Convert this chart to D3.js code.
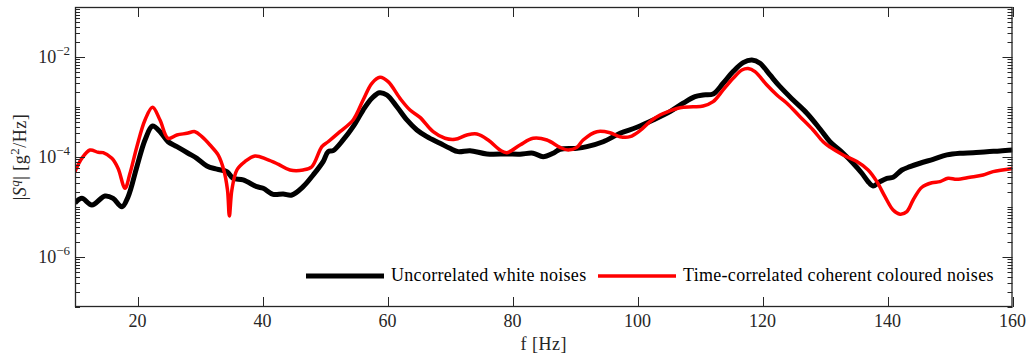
<!DOCTYPE html>
<html>
<head>
<meta charset="utf-8">
<script src="https://cdn.jsdelivr.net/npm/d3@7"></script>
<style>
  body { margin: 0; background: #fff; }
  svg { display: block; font-family: "Liberation Serif", "DejaVu Serif", serif; }
</style>
</head>
<body>
<svg id="chart" width="1028" height="361"></svg>
<script>
// frequency [Hz] and |S^q| [g^2/Hz]
const freqWhite = [10, 11.1, 12.7, 14.8, 16.1, 17.5, 18.5, 19.9, 21.2, 22.4, 23.6, 24.9, 26.3, 28.1, 29.5, 31.1, 32.7, 34.3, 35.3, 36.9,
  39.1, 40.1, 41.7, 43.3, 44.7, 46.5, 48.1, 49.7, 50.5, 51.3, 52.9, 54.5, 56.1, 57.5, 58.7, 59.9, 61.5, 63.1, 64.7, 66.3,
  68.4, 70, 71.3, 73.2, 75.9, 79.1, 81.2, 83.3, 84.9, 86.5, 87.6, 90.3, 91.9, 94.5, 97.2, 99.9, 102.5, 105.2, 107.3, 109.2,
  110.5, 112.1, 113.7, 115.3, 116.9, 118.3, 119.6, 121.2, 122.8, 124.9, 127.1, 129.2, 130.8, 132.9, 134.5, 135.9, 136.9, 137.7, 138.8, 139.9,
  140.9, 142.3, 143.6, 145.2, 147.3, 149.5, 151.6, 153.7, 155.9, 158, 160];
const psdWhite = [1.2e-5, 1.49e-5, 1.1e-5, 1.66e-5, 1.49e-5, 1.01e-5, 1.61e-5, 6.4e-5, 2.19e-4, 4.17e-4, 3.21e-4, 2.02e-4, 1.61e-4, 1.19e-4, 9.4e-5, 6.6e-5, 5.7e-5, 5.1e-5, 3.75e-5, 3.47e-5,
  2.55e-5, 2.37e-5, 1.79e-5, 1.82e-5, 1.74e-5, 2.55e-5, 4.37e-5, 8.1e-5, 1.28e-4, 1.34e-4, 2.19e-4, 4.04e-4, 8.7e-4, 1.49e-3, 1.93e-3, 1.74e-3, 1.01e-3, 5.5e-4, 3.47e-4, 2.55e-4,
  1.88e-4, 1.49e-4, 1.28e-4, 1.34e-4, 1.15e-4, 1.15e-4, 1.14e-4, 1.19e-4, 1.01e-4, 1.19e-4, 1.43e-4, 1.49e-4, 1.61e-4, 2.02e-4, 2.98e-4, 3.93e-4, 5.5e-4, 8.1e-4, 1.19e-3, 1.61e-3,
  1.74e-3, 1.82e-3, 2.98e-3, 5.1e-3, 7.7e-3, 8.7e-3, 7.5e-3, 4.37e-3, 2.55e-3, 1.38e-3, 7.5e-4, 3.63e-4, 2.02e-4, 1.19e-4, 7.5e-5, 4.72e-5, 3.21e-5, 2.63e-5, 3.21e-5, 3.75e-5,
  3.93e-5, 5.5e-5, 6.4e-5, 7.5e-5, 9.0e-5, 1.1e-4, 1.19e-4, 1.22e-4, 1.28e-4, 1.32e-4, 1.38e-4];

const freqColoured = [10, 11.1, 12.4, 13.7, 14.5, 15.9, 16.9, 18, 18.8, 19.9, 21.2, 22.4, 23.6, 24.9, 26.3, 27.9, 29.2, 30.3, 31.6, 32.9,
  33.8, 34.4, 34.7, 35.1, 35.9, 37.2, 38.8, 40.7, 42.5, 44.4, 46.5, 47.9, 49.5, 50.5, 52.4, 54.5, 56.1, 57.5, 58.8, 60.1,
  62, 63.6, 65.2, 67.3, 69.2, 70.8, 72.7, 74.3, 76.1, 78, 79.1, 81.2, 83.3, 85.5, 87.6, 88.9, 90.3, 91.3, 93.5, 95.6,
  97.2, 98.8, 100.4, 102, 103.6, 105.2, 106.8, 108.9, 110.5, 112.1, 113.7, 115.3, 116.7, 117.7, 118.8, 120.7, 122.3, 123.9, 126, 128.1,
  129.7, 130.8, 132.9, 135.1, 136.9, 138.3, 139.6, 140.9, 142, 143.1, 144.1, 145.5, 147.1, 148.4, 149.7, 151.1, 153.2, 155.3, 156.9, 160];
const psdColoured = [5.1e-5, 9.4e-5, 1.38e-4, 1.24e-4, 1.22e-4, 9.4e-5, 5.9e-5, 2.37e-5, 4.72e-5, 1.61e-4, 5.5e-4, 9.9e-4, 5.5e-4, 2.37e-4, 2.75e-4, 2.98e-4, 3.21e-4, 2.55e-4, 1.74e-4, 1.1e-4,
  5.5e-5, 2.19e-5, 6.6e-6, 2.19e-5, 5.5e-5, 8.1e-5, 1.05e-4, 9.0e-5, 7.2e-5, 5.5e-5, 5.5e-5, 6.4e-5, 1.61e-4, 2.02e-4, 3.21e-4, 5.5e-4, 1.38e-3, 2.98e-3, 3.93e-3, 3.21e-3,
  1.49e-3, 8.7e-4, 6.2e-4, 3.21e-4, 2.37e-4, 2.26e-4, 2.75e-4, 2.88e-4, 2.19e-4, 1.38e-4, 1.22e-4, 1.74e-4, 2.37e-4, 2.19e-4, 1.56e-4, 1.38e-4, 1.56e-4, 2.19e-4, 3.21e-4, 3.06e-4,
  2.55e-4, 2.55e-4, 3.36e-4, 5.1e-4, 6.9e-4, 8.4e-4, 9.7e-4, 1.01e-3, 1.05e-3, 1.28e-3, 2.19e-3, 3.75e-3, 5.5e-3, 5.9e-3, 5.1e-3, 2.75e-3, 1.74e-3, 1.19e-3, 6.4e-4, 3.47e-4,
  2.02e-4, 1.58e-4, 1.1e-4, 8.1e-5, 5.5e-5, 3.21e-5, 1.61e-5, 8.7e-6, 7.2e-6, 8.1e-6, 1.38e-5, 2.48e-5, 3.06e-5, 3.21e-5, 3.75e-5, 3.58e-5, 3.93e-5, 4.37e-5, 5.1e-5, 5.9e-5];

const xTicks = [20, 40, 60, 80, 100, 120, 140, 160];
const yLabelExps = [-2, -4, -6];
const seriesNames = ["Uncorrelated white noises", "Time-correlated coherent coloured noises"];

const svg = d3.select("#chart");
const margin = { left: 75, right: 15.5, top: 7, bottom: 54 };
const width = +svg.attr("width"), height = +svg.attr("height");
const x0 = margin.left, x1 = width - margin.right, y0 = margin.top, y1 = height - margin.bottom;

const x = d3.scaleLinear().domain([10, 160]).range([x0, x1]);
const y = d3.scaleLog().domain([1e-7, 1e-1]).range([y1, y0]);

svg.append("clipPath").attr("id", "plot")
  .append("rect").attr("x", x0).attr("y", y0).attr("width", x1 - x0).attr("height", y1 - y0);

const line = d3.line()
  .x(d => x(d[0]))
  .y(d => y(d[1]))
  .curve(d3.curveCatmullRom.alpha(0.5));

const g = svg.append("g").attr("clip-path", "url(#plot)");
g.append("path")
  .datum(d3.zip(freqWhite, psdWhite))
  .attr("fill", "none").attr("stroke", "#000").attr("stroke-width", 5)
  .attr("stroke-linejoin", "round")
  .attr("d", line);
g.append("path")
  .datum(d3.zip(freqColoured, psdColoured))
  .attr("fill", "none").attr("stroke", "#ff0000").attr("stroke-width", 3.5)
  .attr("stroke-linejoin", "round")
  .attr("d", line);

// frame + ticks
const axisColor = "#262626";
const ticks = svg.append("g").attr("stroke", axisColor).attr("stroke-width", 1);

xTicks.forEach(t => {
  const px = Math.round(x(t)) + 0.5;
  ticks.append("line").attr("x1", px).attr("x2", px).attr("y1", y1).attr("y2", y1 - 10);
  ticks.append("line").attr("x1", px).attr("x2", px).attr("y1", y0).attr("y2", y0 + 10);
});

const logTicks = [];
for (let e = -7; e <= -1; e++) {
  for (let m = 1; m <= 9; m++) {
    const v = m * Math.pow(10, e);
    if (v <= 1e-1 * 1.0001) logTicks.push({ v, major: m === 1 && yLabelExps.includes(e) });
  }
}
logTicks.forEach(t => {
  const py = Math.round(y(t.v)) + 0.5;
  const len = t.major ? 10 : 5;
  ticks.append("line").attr("x1", x0).attr("x2", x0 + len).attr("y1", py).attr("y2", py);
  ticks.append("line").attr("x1", x1).attr("x2", x1 - len).attr("y1", py).attr("y2", py);
});

svg.append("rect")
  .attr("x", x0 + 0.5).attr("y", y0 + 0.5)
  .attr("width", x1 - x0 - 1).attr("height", y1 - y0 - 1)
  .attr("fill", "none").attr("stroke", axisColor).attr("stroke-width", 1.3);

// tick labels
const labelColor = "#262626";
svg.append("g").selectAll("text")
  .data(xTicks)
  .join("text")
  .attr("x", d => x(d))
  .attr("y", y1 + 20)
  .attr("text-anchor", "middle")
  .attr("font-size", 18)
  .attr("fill", labelColor)
  .text(d => d);

const yl = svg.append("g").selectAll("text")
  .data(yLabelExps)
  .join("text")
  .attr("x", x0 - 5)
  .attr("y", d => y(Math.pow(10, d)) + 6)
  .attr("text-anchor", "end")
  .attr("font-size", 18)
  .attr("fill", labelColor);
yl.append("tspan").text("10");
yl.append("tspan").attr("font-size", 13).attr("dy", -8).text(d => "\u2212" + Math.abs(d));

// axis titles
svg.append("text")
  .attr("x", (x0 + x1) / 2)
  .attr("y", y1 + 43)
  .attr("text-anchor", "middle")
  .attr("font-size", 18)
  .attr("letter-spacing", 0.5)
  .attr("fill", labelColor)
  .text("f [Hz]");

const yt = svg.append("text")
  .attr("transform", `translate(26,${(y0 + y1) / 2}) rotate(-90)`)
  .attr("text-anchor", "middle")
  .attr("font-size", 18)
  .attr("letter-spacing", 0.5)
  .attr("fill", labelColor);
yt.append("tspan").text("|");
yt.append("tspan").attr("font-style", "italic").text("S");
yt.append("tspan").attr("font-style", "italic").attr("font-size", 13).attr("dy", -7).text("q");
yt.append("tspan").attr("dy", 7).text("| [g");
yt.append("tspan").attr("font-size", 13).attr("dy", -7).text("2");
yt.append("tspan").attr("dy", 7).text("/Hz]");

// legend
const legendY = 276;
const legendItems = [
  { name: seriesNames[0], color: "#000", w: 5, lx: 306 },
  { name: seriesNames[1], color: "#ff0000", w: 3.5, lx: 598 }
];
const lg = svg.append("g").selectAll("g").data(legendItems).join("g");
lg.append("line")
  .attr("x1", d => d.lx).attr("x2", d => d.lx + 78)
  .attr("y1", legendY).attr("y2", legendY)
  .attr("stroke", d => d.color).attr("stroke-width", d => d.w);
lg.append("text")
  .attr("x", d => d.lx + 85)
  .attr("y", legendY + 5)
  .attr("font-size", 18)
  .attr("letter-spacing", 0.3)
  .attr("fill", "#000")
  .text(d => d.name);
</script>
</body>
</html>
